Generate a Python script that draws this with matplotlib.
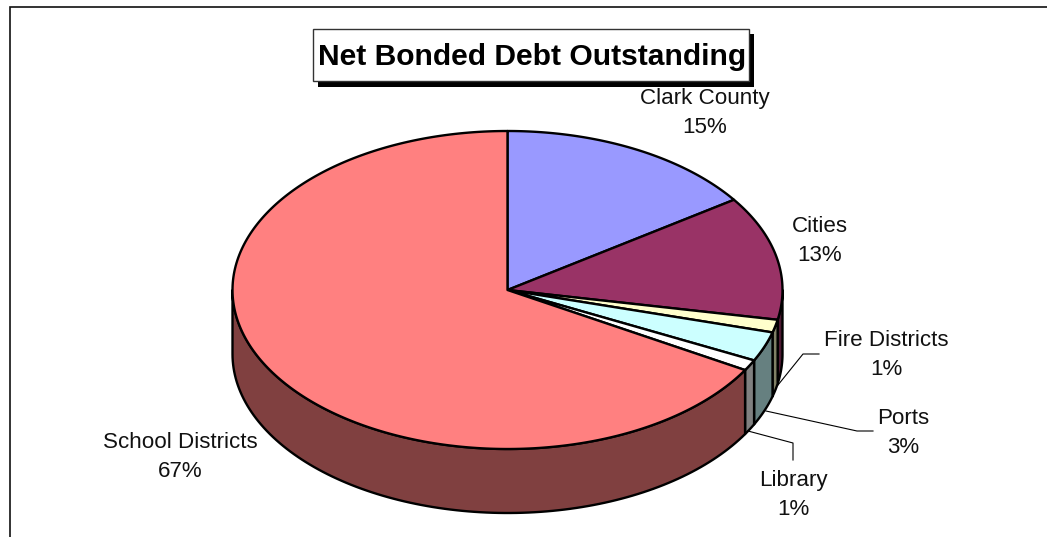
import numpy as np
import matplotlib
matplotlib.use("Agg")
import matplotlib.pyplot as plt
from matplotlib.patches import Polygon, Rectangle

plt.rcParams['font.family'] = ['Liberation Sans', 'DejaVu Sans']

title = "Net Bonded Debt Outstanding"
categories = ["Clark County", "Cities", "Fire Districts", "Ports", "Library", "School Districts"]
shares = [15.4, 12.6, 1.3, 3.0, 1.1, 66.6]
top_colors = ["#9999FF", "#993366", "#FFFFCC", "#CCFFFF", "#FFFFFF", "#FF8080"]
side_colors = ["#4D4D80", "#4D1A33", "#808066", "#668080", "#808080", "#804040"]
label_xy = [(705, 113), (820, 241), (886, 355), (903, 433), (793, 495), (180, 457)]
leaders = {
    "Fire Districts": [(778, 385), (803, 354), (819, 354)],
    "Ports": [(766, 411), (857, 431), (873, 431)],
    "Library": [(748, 431), (793, 443), (793, 460)],
}

W, H = 1047, 537
fig = plt.figure(figsize=(W / 100, H / 100), dpi=100)
ax = fig.add_axes([0, 0, 1, 1])
ax.set_xlim(0, W)
ax.set_ylim(H, 0)
ax.axis("off")

cx, cy, rx, ry, depth = 507.5, 290, 275, 159, 64


def rim(t):
    t = np.radians(t)
    return np.column_stack([cx + rx * np.sin(t), cy - ry * np.cos(t)])


# chart frame (open on the right and bottom)
ax.plot([9.5, 9.5, W], [H, 7, 7], color="#111111", lw=1.2, solid_joinstyle="miter", zorder=1)

edges = np.concatenate([[0], np.cumsum(shares)]) / sum(shares) * 360

# side walls
for i in range(len(shares)):
    a, b = max(edges[i], 90), min(edges[i + 1], 270)
    if a >= b:
        continue
    arc = rim(np.linspace(a, b, 120))
    low = arc + [0, depth]
    ax.add_patch(Polygon(np.vstack([arc, low[::-1]]), closed=True, fc=side_colors[i],
                         ec="black", lw=1.7, joinstyle="round", zorder=2))

# top faces
for i in range(len(shares)):
    arc = rim(np.linspace(edges[i], edges[i + 1], 240))
    ax.add_patch(Polygon(np.vstack([[cx, cy], arc]), closed=True, fc=top_colors[i],
                         ec="black", lw=1.7, joinstyle="round", zorder=3))

# leader lines
for pts in leaders.values():
    xs, ys = zip(*pts)
    ax.plot(xs, ys, color="black", lw=0.8, zorder=4)

# labels
for name, v, (x, y) in zip(categories, shares, label_xy):
    ax.text(x, y, f"{name}\n{v:.0f}%", ha="center", va="center", fontsize=16.1,
            linespacing=1.52, color="#111111", zorder=5)

# title box with hard shadow
ax.add_patch(Rectangle((318, 34), 436, 53, fc="black", ec="none", zorder=6))
ax.add_patch(Rectangle((312.5, 28.5), 436, 52, fc="white", ec="#333333", lw=1, zorder=7))
ax.text(532.5, 57, title, ha="center", va="center", fontsize=21.6, fontweight="bold",
        color="black", zorder=8)

fig.savefig("out.png", dpi=100)
